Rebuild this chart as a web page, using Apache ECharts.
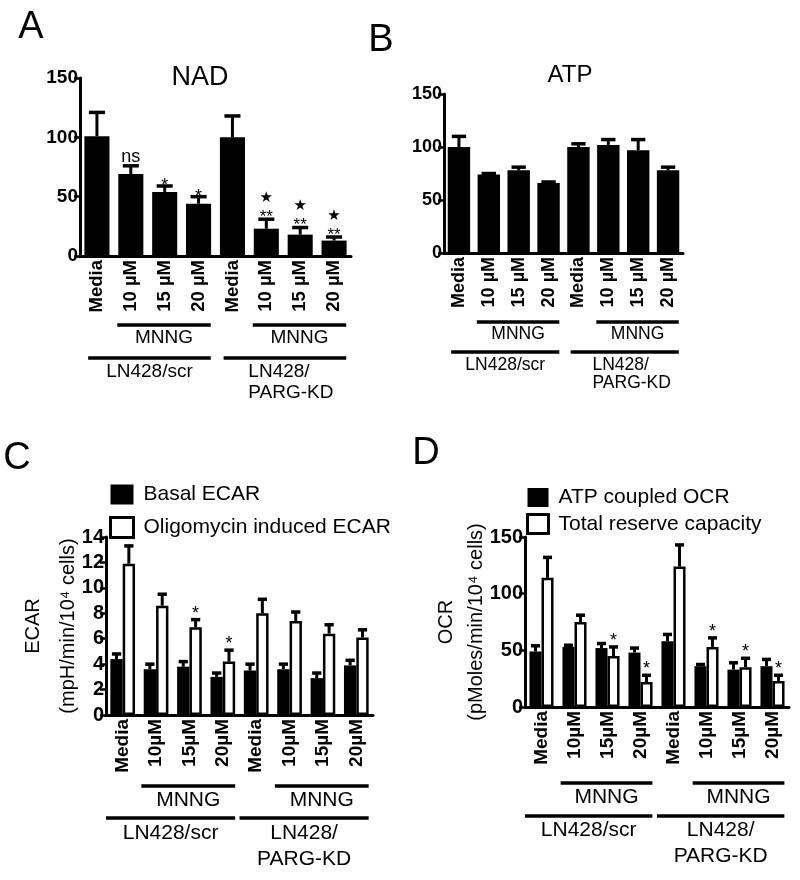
<!DOCTYPE html>
<html><head><meta charset="utf-8">
<script src="https://cdn.jsdelivr.net/npm/echarts@6/dist/echarts.min.js"></script>
<style>html,body{margin:0;padding:0;background:#fff}#c{width:800px;height:880px}</style>
</head><body><div id="c"></div><script>
// ---------- data ----------
const categoriesAB = ['Media', '10 µM', '15 µM', '20 µM', 'Media', '10 µM', '15 µM', '20 µM'];
const categoriesCD = ['Media', '10µM', '15µM', '20µM', 'Media', '10µM', '15µM', '20µM'];

const nadMean = [101, 69, 54, 44, 100, 23, 18, 13];
const nadErr  = [20, 7, 5, 6, 18, 8, 6, 3];
const nadSig  = [[], ['ns'], ['*'], ['*'], [], ['**', '★'], ['**', '★'], ['**', '★']];

const atpMean = [100, 74, 78, 66, 100, 102, 97, 78];
const atpErr  = [10, 1, 3, 1, 3, 5, 10, 3];

const ecarBasal     = [4.4, 3.6, 3.8, 3.0, 3.5, 3.6, 2.9, 3.9];
const ecarBasalErr  = [0.4, 0.4, 0.4, 0.3, 0.5, 0.4, 0.4, 0.4];
const ecarOligo     = [11.9, 8.6, 6.9, 4.2, 8.0, 7.4, 6.4, 6.1];
const ecarOligoErr  = [1.4, 0.9, 0.6, 0.9, 1.1, 0.7, 0.7, 0.6];
const ecarSig       = [[], [], ['*'], ['*'], [], [], [], []];

const ocrAtp        = [49, 53, 52, 48, 58, 36, 33, 36];
const ocrAtpErr     = [5, 1.5, 4, 4, 6, 1.5, 6, 6];
const ocrReserve    = [114, 75, 45, 22, 124, 53, 35, 23];
const ocrReserveErr = [18, 6, 8, 6, 19, 8, 8, 5];
const ocrSig        = [[], [], ['*'], ['*'], [], ['*'], ['*'], ['*']];

const yMaxNAD = 150, yStepNAD = 50;
const yMaxATP = 150, yStepATP = 50;
const yMaxECAR = 14, yStepECAR = 2;
const yMaxOCR = 150, yStepOCR = 50;

const treatmentLabel = 'MNNG';
const treatmentGroups = [[1, 3], [5, 7]];
const cellGroups = [[0, 3], [4, 7]];
const cellLabels = ['LN428/scr', 'LN428/\nPARG-KD'];

const panelLetters = ['A', 'B', 'C', 'D'];
const titleNAD = 'NAD', titleATP = 'ATP';
const ecarSeriesNames = ['Basal ECAR', 'Oligomycin induced ECAR'];
const ocrSeriesNames = ['ATP coupled OCR', 'Total reserve capacity'];
const ecarAxisName = 'ECAR\n(mpH/min/10⁴ cells)';
const ocrAxisName = 'OCR\n(pMoles/min/10⁴ cells)';

// ---------- styling / layout ----------
const FONT = '"Liberation Sans", Arial, Helvetica, sans-serif';
const K = '#000';

const grids = [
  {left: 80, top: 78, width: 271, height: 178},
  {left: 444, top: 94, width: 239, height: 159},
  {left: 106, top: 537, width: 267, height: 178},
  {left: 525, top: 537, width: 264, height: 170}
];
const gaps = [0.26, 0.25, 0.26, 0.27];
const tickFonts = [19, 18, 20, 20];
const catFonts = [18.5, 18, 19, 19];

const bracketCfg = [
  {mnLine: 69, mnText: 82, lnLine: 102, lnText: 116, lineGap: 21, font: 19, mnStart: 0.4, lnStart: 0.26, end: 0.36, leftMulti: true},
  {mnLine: 69, mnText: 81, lnLine: 99, lnText: 112, lineGap: 18, font: 17.5, mnStart: 0.4, lnStart: 0.26, end: 0.36, leftMulti: true},
  {mnLine: 71, mnText: 85, lnLine: 103, lnText: 118, lineGap: 26, font: 21, mnStart: 0.44, lnStart: 0.5, end: 0.37, leftMulti: false},
  {mnLine: 76, mnText: 90, lnLine: 109, lnText: 123, lineGap: 26, font: 21, mnStart: 0.42, lnStart: 0.5, end: 0.36, leftMulti: false}
];

function sigStyle(t, panel) {
  if (t === '★') return {font: '"DejaVu Sans", sans-serif', size: 15, off: 21};
  if (t === 'ns') return {font: FONT, size: 18, off: 9};
  if (t === '**') return {font: FONT, size: 17, off: 2};
  return {font: FONT, size: 18, off: panel === 0 ? 0 : 6};
}

function errorRender(gapRatio, nSeries, pos, capRatio, sig, panel) {
  return function (params, api) {
    const i = api.value(0), v = api.value(1), e = api.value(2);
    const base = api.coord([i, v]);
    const top = api.coord([i, v + e]);
    const band = api.size([1, 0])[0];
    const bw = band * (1 - gapRatio) / nSeries;
    const x = base[0] + (pos - (nSeries - 1) / 2) * bw;
    const half = bw * capRatio / 2;
    const children = [
      {type: 'line', shape: {x1: x, y1: base[1], x2: x, y2: top[1]}, style: {stroke: K, lineWidth: 3}},
      {type: 'line', shape: {x1: x - half, y1: top[1], x2: x + half, y2: top[1]}, style: {stroke: K, lineWidth: 3.5}}
    ];
    (sig ? sig[i] : []).forEach(function (t) {
      const s = sigStyle(t, panel);
      children.push({type: 'text', style: {text: t, x: x, y: top[1] - s.off, align: 'center', verticalAlign: 'middle',
        fontFamily: s.font, fontSize: s.size, fill: K}});
    });
    return {type: 'group', children: children};
  };
}

const bracketLabels = [treatmentLabel, cellLabels[0], cellLabels[1]];
const bracketData = treatmentGroups.map(function (g) { return [g[0], g[1], 0, 0]; })
  .concat(cellGroups.map(function (g, k) { return [g[0], g[1], 1, k + 1]; }));

function bracketRender(cfg) {
  return function (params, api) {
    const s = api.value(0), e = api.value(1), lvl = api.value(2), li = api.value(3);
    const band = api.size([1, 0])[0];
    const p0 = api.coord([s, 0]), p1 = api.coord([e, 0]);
    const ay = p0[1];
    const x0 = p0[0] - (lvl === 0 ? cfg.mnStart : cfg.lnStart) * band;
    const x1 = p1[0] + cfg.end * band;
    const ly = ay + (lvl === 0 ? cfg.mnLine : cfg.lnLine);
    const ty = ay + (lvl === 0 ? cfg.mnText : cfg.lnText);
    const label = bracketLabels[li];
    const multi = label.indexOf('\n') >= 0;
    let tx = (x0 + x1) / 2, align = 'center';
    if (multi && cfg.leftMulti) { tx = p0[0] + 0.47 * band; align = 'left'; }
    return {type: 'group', children: [
      {type: 'line', shape: {x1: x0, y1: ly, x2: x1, y2: ly}, style: {stroke: K, lineWidth: 3.5}},
      {type: 'text', style: {text: label, x: tx, y: ty - cfg.lineGap / 2, align: align, verticalAlign: 'top',
        lineHeight: cfg.lineGap, fontFamily: FONT, fontSize: cfg.font, fill: K}}
    ]};
  };
}

const xAxes = grids.map(function (g, i) {
  return {
    type: 'category', gridIndex: i, data: i < 2 ? categoriesAB : categoriesCD,
    axisLine: {lineStyle: {color: K, width: 3}},
    axisTick: {alignWithLabel: true, length: 5, lineStyle: {color: K, width: 2.5}},
    axisLabel: {rotate: 90, margin: 4, color: K, fontFamily: FONT, fontWeight: 'bold', fontSize: catFonts[i], interval: 0},
    splitLine: {show: false}
  };
});
const yLimits = [[yMaxNAD, yStepNAD], [yMaxATP, yStepATP], [yMaxECAR, yStepECAR], [yMaxOCR, yStepOCR]];
const yAxes = grids.map(function (g, i) {
  const ax = {
    type: 'value', gridIndex: i, min: 0, max: yLimits[i][0], interval: yLimits[i][1],
    axisLine: {show: true, lineStyle: {color: K, width: 3}},
    axisTick: {show: true, length: 6, lineStyle: {color: K, width: 2.5}},
    axisLabel: {margin: 2, color: K, fontFamily: FONT, fontWeight: 'bold', fontSize: tickFonts[i]},
    splitLine: {show: false}
  };
  if (i === 2) {
    Object.assign(ax, {name: ecarAxisName, nameLocation: 'middle', nameRotate: 90, nameGap: 20, nameMoveOverlap: false,
      nameTextStyle: {fontFamily: FONT, fontSize: 20, color: K, lineHeight: 35}});
  }
  if (i === 3) {
    Object.assign(ax, {name: ocrAxisName, nameLocation: 'middle', nameRotate: 90, nameGap: 34, nameMoveOverlap: false,
      nameTextStyle: {fontFamily: FONT, fontSize: 20, color: K, lineHeight: 30}});
  }
  return ax;
});

function toErr(mean, err) { return mean.map(function (m, i) { return [i, m, err[i]]; }); }

const series = [];
// A
series.push({type: 'bar', xAxisIndex: 0, yAxisIndex: 0, data: nadMean, barCategoryGap: gaps[0] * 100 + '%', itemStyle: {color: K}});
series.push({type: 'custom', xAxisIndex: 0, yAxisIndex: 0, data: toErr(nadMean, nadErr), renderItem: errorRender(gaps[0], 1, 0, 0.64, nadSig, 0), clip: false, z: 5});
// B
series.push({type: 'bar', xAxisIndex: 1, yAxisIndex: 1, data: atpMean, barCategoryGap: gaps[1] * 100 + '%', itemStyle: {color: K}});
series.push({type: 'custom', xAxisIndex: 1, yAxisIndex: 1, data: toErr(atpMean, atpErr), renderItem: errorRender(gaps[1], 1, 0, 0.64, null, 1), clip: false, z: 5});
// C
series.push({type: 'bar', name: ecarSeriesNames[0], xAxisIndex: 2, yAxisIndex: 2, data: ecarBasal, barGap: '0%', barCategoryGap: gaps[2] * 100 + '%', itemStyle: {color: K}});
series.push({type: 'bar', name: ecarSeriesNames[1], xAxisIndex: 2, yAxisIndex: 2, data: ecarOligo, barGap: '0%', barCategoryGap: gaps[2] * 100 + '%', itemStyle: {color: '#fff', borderColor: K, borderWidth: 2.5}});
series.push({type: 'custom', xAxisIndex: 2, yAxisIndex: 2, data: toErr(ecarBasal, ecarBasalErr), renderItem: errorRender(gaps[2], 2, 0, 0.75, null, 2), clip: false, z: 5});
series.push({type: 'custom', xAxisIndex: 2, yAxisIndex: 2, data: toErr(ecarOligo, ecarOligoErr), renderItem: errorRender(gaps[2], 2, 1, 0.75, ecarSig, 2), clip: false, z: 5});
// D
series.push({type: 'bar', name: ocrSeriesNames[0], xAxisIndex: 3, yAxisIndex: 3, data: ocrAtp, barGap: '0%', barCategoryGap: gaps[3] * 100 + '%', itemStyle: {color: K}});
series.push({type: 'bar', name: ocrSeriesNames[1], xAxisIndex: 3, yAxisIndex: 3, data: ocrReserve, barGap: '0%', barCategoryGap: gaps[3] * 100 + '%', itemStyle: {color: '#fff', borderColor: K, borderWidth: 2.5}});
series.push({type: 'custom', xAxisIndex: 3, yAxisIndex: 3, data: toErr(ocrAtp, ocrAtpErr), renderItem: errorRender(gaps[3], 2, 0, 0.75, null, 3), clip: false, z: 5});
series.push({type: 'custom', xAxisIndex: 3, yAxisIndex: 3, data: toErr(ocrReserve, ocrReserveErr), renderItem: errorRender(gaps[3], 2, 1, 0.75, ocrSig, 3), clip: false, z: 5});
// brackets
grids.forEach(function (g, i) {
  series.push({type: 'custom', xAxisIndex: i, yAxisIndex: i, data: bracketData, renderItem: bracketRender(bracketCfg[i]), clip: false, silent: true});
});

const letterPos = [[31, 28], [381, 41], [17, 459], [426, 454]];
const graphics = panelLetters.map(function (t, i) {
  return {type: 'text', x: letterPos[i][0], y: letterPos[i][1], style: {text: t, align: 'center', verticalAlign: 'middle', fontFamily: FONT, fontSize: 38, fill: K}};
});
graphics.push({type: 'text', x: 200, y: 78, style: {text: titleNAD, align: 'center', verticalAlign: 'middle', fontFamily: FONT, fontSize: 27, fill: K}});
graphics.push({type: 'text', x: 570, y: 75, style: {text: titleATP, align: 'center', verticalAlign: 'middle', fontFamily: FONT, fontSize: 24, fill: K}});

function legendOf(names, left, top, w, h, gap) {
  return {
    orient: 'vertical', left: left, top: top, itemWidth: w, itemHeight: h, itemGap: gap, selectedMode: false, padding: 0,
    textStyle: {fontFamily: FONT, fontSize: 21, color: K, padding: [0, 0, 0, 5]},
    data: [
      {name: names[0], icon: 'rect', itemStyle: {color: K, borderWidth: 0}},
      {name: names[1], icon: 'rect', itemStyle: {color: '#fff', borderColor: K, borderWidth: 3}}
    ]
  };
}

const chart = echarts.init(document.getElementById('c'));
chart.setOption({
  animation: false,
  backgroundColor: '#fff',
  grid: grids.map(function (g) { return Object.assign({containLabel: false, outerBoundsMode: 'none'}, g); }),
  xAxis: xAxes,
  yAxis: yAxes,
  legend: [legendOf(ecarSeriesNames, 109, 484, 23, 20, 11), legendOf(ocrSeriesNames, 526, 487, 21, 19, 5)],
  graphic: graphics,
  series: series
});
</script></body></html>
